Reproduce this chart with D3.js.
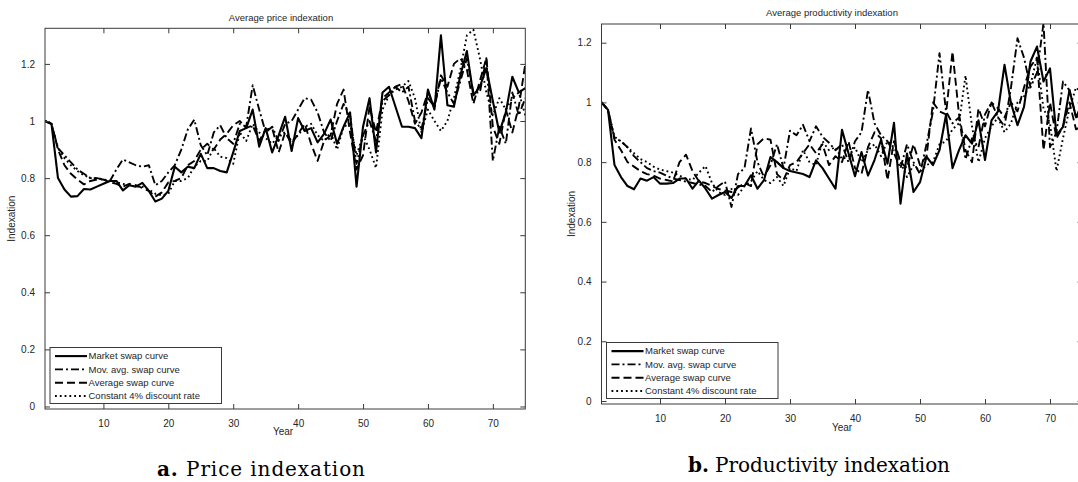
<!DOCTYPE html>
<html><head><meta charset="utf-8">
<script src="https://cdn.jsdelivr.net/npm/d3@7"></script>
<style>
html,body{margin:0;padding:0;background:#fff;}
svg text{font-family:"Liberation Sans",Arial,sans-serif;fill:#262626;}
</style></head><body>
<svg id="chart" width="1078" height="482"></svg>
<script>
// ---------------- data ----------------
const years = d3.range(1, 76);
const xTicks = [10, 20, 30, 40, 50, 60, 70];
const yTicks = [0, 0.2, 0.4, 0.6, 0.8, 1, 1.2];
const yTickLabels = ["0", "0.2", "0.4", "0.6", "0.8", "1", "1.2"];
const seriesNames = ["Market swap curve", "Mov. avg. swap curve", "Average swap curve", "Constant 4% discount rate"];
const panelTitles = ["Average price indexation", "Average productivity indexation"];
const captionLetters = ["a.", "b."];
const captionTexts = ["Price indexation", "Productivity indexation"];
const xLabel = "Year";
const yLabel = "Indexation";

const priceMarket = [
  1.00, 0.99, 0.80, 0.76, 0.735, 0.737, 0.762, 0.76, 0.77, 0.78,
  0.79, 0.79, 0.757, 0.775, 0.77, 0.783, 0.755, 0.718, 0.728, 0.755,
  0.84, 0.82, 0.84, 0.835, 0.885, 0.835, 0.835, 0.825, 0.82, 0.89,
  0.965, 0.975, 1.04, 0.91, 0.975, 0.89, 0.95, 1.015, 0.895, 1.01,
  0.965, 0.975, 0.925, 0.955, 1.005, 0.92, 0.98, 1.03, 0.77, 0.98,
  1.08, 0.89, 1.10, 1.12, 1.05, 0.98, 0.98, 0.975, 0.94, 1.11,
  1.04, 1.30, 1.055, 1.05, 1.16, 1.245, 1.09, 1.12, 1.185, 1.07,
  0.96, 1.03, 1.155, 1.10, 1.115];
const priceMovAvg = [
  1.00, 0.99, 0.905, 0.88, 0.855, 0.83, 0.815, 0.80, 0.80, 0.795,
  0.79, 0.83, 0.865, 0.855, 0.845, 0.84, 0.845, 0.775, 0.79, 0.82,
  0.845, 0.90, 0.97, 1.005, 0.915, 0.88, 0.96, 0.985, 0.94, 0.92,
  0.99, 0.98, 1.125, 1.04, 0.96, 0.98, 0.93, 0.99, 1.0, 1.04,
  1.08, 1.075, 1.03, 0.96, 0.93, 1.0, 1.06, 1.02, 0.85, 0.95,
  1.0, 0.93, 1.07, 1.09, 1.12, 1.10, 1.12, 1.0, 0.97, 1.08,
  1.05, 1.15, 1.1, 1.06, 1.14, 1.22, 1.1, 1.1, 1.22, 0.86,
  0.98, 0.92, 1.10, 1.02, 1.08];
const priceAverage = [
  1.00, 0.99, 0.90, 0.845, 0.815, 0.795, 0.778, 0.79, 0.795, 0.795,
  0.785, 0.78, 0.77, 0.78, 0.775, 0.765, 0.755, 0.735, 0.75, 0.785,
  0.79, 0.80, 0.845, 0.86, 0.90, 0.92, 0.90, 0.935, 0.955, 0.985,
  1.0, 0.975, 0.985, 0.93, 0.97, 0.975, 0.89, 0.96, 0.92, 0.955,
  0.99, 0.92, 0.86, 0.93, 0.95, 1.06, 1.11, 0.96, 0.83, 0.88,
  1.05, 0.96, 1.08, 1.10, 1.12, 1.13, 1.07, 0.99, 1.03, 1.10,
  1.05, 1.16, 1.12, 1.20, 1.22, 1.18, 1.06, 1.14, 1.22, 0.98,
  0.92, 1.04, 0.96, 1.05, 1.20];
const priceConstant = [
  1.00, 0.99, 0.905, 0.87, 0.845, 0.825, 0.81, 0.80, 0.80, 0.795,
  0.79, 0.785, 0.78, 0.775, 0.77, 0.77, 0.76, 0.745, 0.74, 0.745,
  0.79, 0.79, 0.80, 0.84, 0.86, 0.86, 0.905, 0.875, 0.87, 0.85,
  0.96, 0.93, 0.99, 0.96, 0.94, 0.92, 0.95, 0.96, 0.93, 0.95,
  0.98, 0.99, 0.95, 0.93, 0.96, 0.90, 0.98, 0.99, 0.88, 0.95,
  0.90, 0.835, 1.04, 1.09, 1.11, 1.12, 1.14, 1.08, 0.96, 1.04,
  1.0, 0.965, 1.0, 1.08, 1.18, 1.30, 1.32, 1.22, 1.10, 1.02,
  1.08, 1.04, 1.08, 1.10, 1.02];

const prodMarket = [
  1.00, 0.975, 0.79, 0.75, 0.72, 0.709, 0.745, 0.738, 0.75, 0.728,
  0.728, 0.73, 0.745, 0.745, 0.711, 0.738, 0.711, 0.678, 0.69, 0.70,
  0.68, 0.72, 0.72, 0.756, 0.711, 0.74, 0.817, 0.80, 0.78, 0.77,
  0.765, 0.76, 0.75, 0.806, 0.78, 0.745, 0.711, 0.908, 0.83, 0.753,
  0.834, 0.755, 0.807, 0.874, 0.795, 0.932, 0.661, 0.829, 0.70, 0.733,
  0.818, 0.79, 0.84, 0.958, 0.78, 0.84, 0.89, 0.862, 0.94, 0.807,
  0.94, 0.97, 1.126, 0.997, 0.924, 0.985, 1.137, 1.187, 1.07, 1.114,
  0.89, 0.918, 1.042, 0.95, 0.96];
const prodMovAvg = [
  1.00, 0.975, 0.88, 0.87, 0.85, 0.82, 0.80, 0.78, 0.77, 0.765,
  0.755, 0.745, 0.74, 0.735, 0.73, 0.725, 0.72, 0.70, 0.72, 0.735,
  0.65, 0.76, 0.78, 0.913, 0.80, 0.75, 0.79, 0.86, 0.78, 0.905,
  0.89, 0.925, 0.87, 0.92, 0.885, 0.865, 0.84, 0.86, 0.80, 0.87,
  0.90, 1.042, 0.93, 0.89, 0.87, 0.83, 0.78, 0.86, 0.80, 0.76,
  0.86, 0.97, 1.165, 0.97, 0.93, 0.95, 0.81, 0.88, 0.85, 0.96,
  1.0, 0.95, 0.92, 1.05, 1.215, 1.15, 1.05, 1.1, 1.265, 0.85,
  0.90, 1.07, 1.04, 0.95, 1.0];
const prodAverage = [
  1.00, 0.975, 0.875, 0.84, 0.80, 0.785, 0.77, 0.76, 0.755, 0.745,
  0.74, 0.735, 0.80, 0.825, 0.77, 0.735, 0.73, 0.72, 0.71, 0.705,
  0.70, 0.715, 0.73, 0.72, 0.86, 0.88, 0.875, 0.76, 0.74, 0.79,
  0.80, 0.83, 0.86, 0.83, 0.86, 0.79, 0.82, 0.80, 0.87, 0.78,
  0.76, 0.85, 0.90, 0.88, 0.74, 0.87, 0.80, 0.78, 0.86, 0.79,
  0.82, 1.0, 0.97, 0.96, 1.17, 0.96, 0.84, 0.80, 0.98, 0.92,
  1.0, 0.98, 0.95, 1.0, 0.97, 1.05, 1.12, 1.15, 0.84, 1.0,
  0.88, 0.92, 1.0, 0.91, 0.92];
const prodConstant = [
  1.00, 0.975, 0.885, 0.87, 0.85, 0.83, 0.81, 0.80, 0.785, 0.775,
  0.77, 0.765, 0.755, 0.745, 0.74, 0.765, 0.787, 0.73, 0.70, 0.69,
  0.71, 0.69, 0.72, 0.735, 0.77, 0.74, 0.73, 0.75, 0.72, 0.78,
  0.77, 0.84, 0.80, 0.79, 0.87, 0.84, 0.85, 0.81, 0.82, 0.85,
  0.80, 0.84, 0.86, 0.82, 0.87, 0.85, 0.80, 0.75, 0.79, 0.77,
  0.79, 0.80, 0.86, 0.87, 0.91, 0.93, 1.09, 0.92, 0.80, 0.88,
  0.92, 0.95, 0.90, 0.93, 1.0, 1.02, 1.06, 1.15, 0.98, 0.93,
  0.77, 0.88, 0.98, 1.05, 1.03];

const priceSeries = [priceMarket, priceMovAvg, priceAverage, priceConstant];
const prodSeries = [prodMarket, prodMovAvg, prodAverage, prodConstant];

// ---------------- styles & layout ----------------
const dashStyles = [null, "8,3,2,3", "8,4", "1.8,3"];
const layout = [
  {left: 45, right: 525.3, top: 28.3, bottom: 409, yMin: -0.0088, yMax: 1.3247,
   titleX: 281, titleY: 20.5, yearX: 283, yearY: 435, ylabX: 12, capX: 157, capY: 476, capW: 208},
  {left: 601.5, right: 1082.5, top: 24, bottom: 404, yMin: -0.01, yMax: 1.2626,
   titleX: 832, titleY: 15.5, yearX: 842, yearY: 431, ylabX: 572.5, capX: 688, capY: 472, capW: 262}
];
const panels = [
  {title: panelTitles[0], series: priceSeries, letter: captionLetters[0], caption: captionTexts[0]},
  {title: panelTitles[1], series: prodSeries, letter: captionLetters[1], caption: captionTexts[1]}
];

const svg = d3.select("#chart");
const axisColor = "#3a3a3a";

panels.forEach((p, pi) => {
  const L = layout[pi];
  const x = d3.scaleLinear().domain([1, 75]).range([L.left, L.right]);
  const y = d3.scaleLinear().domain([L.yMin, L.yMax]).range([L.bottom, L.top]);
  const g = svg.append("g");

  const clipId = "clip" + pi;
  svg.append("defs").append("clipPath").attr("id", clipId)
    .append("rect").attr("x", L.left).attr("y", L.top)
    .attr("width", L.right - L.left).attr("height", L.bottom - L.top);

  // series lines
  const line = d3.line().x((d, i) => x(years[i])).y(d => y(d));
  const lg = g.append("g").attr("clip-path", `url(#${clipId})`);
  p.series.forEach((s, si) => {
    lg.append("path").datum(s).attr("d", line)
      .attr("fill", "none").attr("stroke", "#000")
      .attr("stroke-width", si === 0 ? 2.1 : 1.9)
      .attr("stroke-linejoin", "round")
      .attr("stroke-dasharray", dashStyles[si]);
  });

  // box
  g.append("rect").attr("x", L.left).attr("y", L.top)
    .attr("width", L.right - L.left).attr("height", L.bottom - L.top)
    .attr("fill", "none").attr("stroke", axisColor).attr("stroke-width", 1);

  // axes with inward ticks
  const tl = 5;
  const xb = g.append("g").attr("transform", `translate(0,${L.bottom})`)
    .call(d3.axisBottom(x).tickValues(xTicks).tickSize(-tl).tickPadding(tl + 6).tickFormat(d3.format("d")));
  const xt = g.append("g").attr("transform", `translate(0,${L.top})`)
    .call(d3.axisTop(x).tickValues(xTicks).tickSize(-tl).tickFormat(""));
  const yl = g.append("g").attr("transform", `translate(${L.left},0)`)
    .call(d3.axisLeft(y).tickValues(yTicks).tickSize(-tl).tickPadding(tl + 5).tickFormat((d, i) => yTickLabels[i]));
  const yr = g.append("g").attr("transform", `translate(${L.right},0)`)
    .call(d3.axisRight(y).tickValues(yTicks).tickSize(-tl).tickFormat(""));
  [xb, xt, yl, yr].forEach(a => {
    a.select(".domain").remove();
    a.selectAll(".tick line").attr("stroke", axisColor);
    a.selectAll(".tick text").attr("font-size", 10).attr("fill", "#333")
      .attr("font-family", "'Liberation Sans', Arial, sans-serif");
  });

  // titles & labels
  g.append("text").attr("x", L.titleX).attr("y", L.titleY).attr("text-anchor", "middle")
    .attr("font-size", 9.5).text(p.title);
  g.append("text").attr("x", L.yearX).attr("y", L.yearY).attr("text-anchor", "middle")
    .attr("font-size", 10).text(xLabel);
  const ymid = (L.top + L.bottom) / 2;
  g.append("text").attr("transform", `translate(${L.ylabX},${ymid}) rotate(-90)`)
    .attr("text-anchor", "middle").attr("dominant-baseline", "middle")
    .attr("font-size", 10).text(yLabel);

  // legend
  const bx = L.left + 5, by = L.bottom - 61.5, bw = 171.5, bh = 56;
  const leg = g.append("g");
  leg.append("rect").attr("x", bx).attr("y", by).attr("width", bw).attr("height", bh)
    .attr("fill", "#fff").attr("stroke", axisColor).attr("stroke-width", 1);
  seriesNames.forEach((name, si) => {
    const cy = by + 8.6 + si * 13.3;
    leg.append("line").attr("x1", bx + 5).attr("x2", bx + 37).attr("y1", cy).attr("y2", cy)
      .attr("stroke", "#000").attr("stroke-width", si === 0 ? 2.1 : 1.9)
      .attr("stroke-dasharray", dashStyles[si]);
    leg.append("text").attr("x", bx + 38.5).attr("y", cy).attr("dy", "0.35em")
      .attr("font-size", 9.5).text(name);
  });

  // caption
  const cap = svg.append("text").attr("x", L.capX).attr("y", L.capY)
    .style("font-family", "'DejaVu Serif', 'Liberation Serif', serif")
    .attr("font-size", 20).style("fill", "#000")
    .attr("textLength", L.capW).attr("lengthAdjust", "spacing");
  cap.append("tspan").attr("font-weight", "bold").text(p.letter);
  cap.append("tspan").text("\u00a0" + p.caption);
});
</script>
</body></html>
